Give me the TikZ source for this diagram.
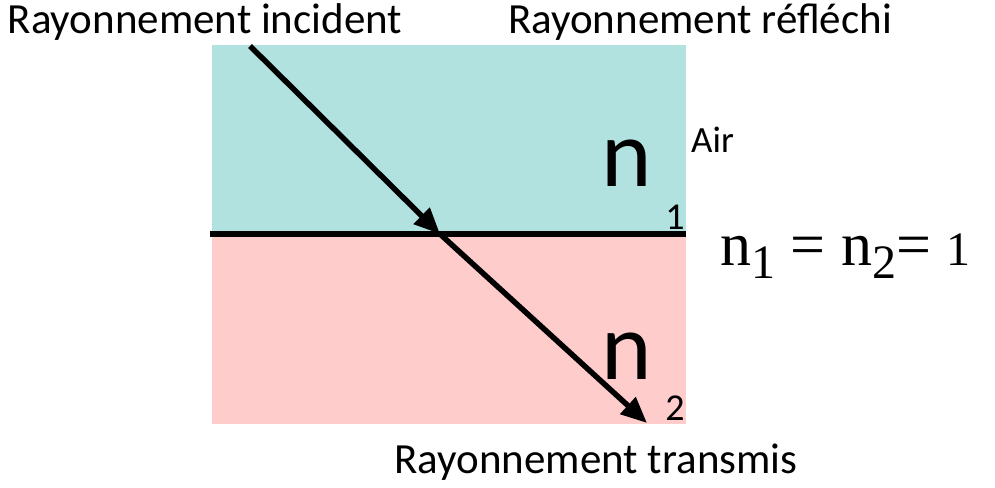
\documentclass[tikz,border=0pt]{standalone}
\usepackage{fontspec}
\setmainfont{Carlito}
\newfontfamily\serifnum{Liberation Serif}
\usetikzlibrary{arrows.meta}
\definecolor{aircol}{RGB}{178,226,224}
\definecolor{glasscol}{RGB}{255,204,204}
\newcommand{\eqbig}{\serifnum\fontsize{62}{70}\selectfont}
\newcommand{\eqsmall}{\serifnum\fontsize{48}{54}\selectfont}
\newcommand{\eqsub}[1]{\raisebox{-13pt}{\eqsmall #1}}
\tikzset{
  ray/.style={line width=5.5pt,-{Triangle[length=26pt,width=22pt]}},
  lbl/.style={inner sep=0pt,font=\fontsize{43}{50}\selectfont},
  bign/.style={inner sep=0pt,font=\fontsize{96}{110}\selectfont},
  subn/.style={inner sep=0pt,font=\fontsize{38}{44}\selectfont}
}
\begin{document}
\begin{tikzpicture}[x=1pt,y=-1pt]
\useasboundingbox (0,0) rectangle (995,487);
\fill[aircol] (212,45) rectangle (686,234);
\fill[glasscol] (212,234) rectangle (686,424);
\coordinate (iA) at (250,46);
\coordinate (iB) at (440,234);
\coordinate (tB) at (647,423);
\coordinate (sL) at (210,234);
\coordinate (sR) at (686,234);
\draw[line width=6pt] (sL) -- (sR);
\draw[ray] (iA) -- (iB);
\draw[ray] (iB) -- (tB);
\node[lbl,anchor=base] (inc) at (205,34) {Rayonnement incident};
\node[lbl,anchor=base] (ref) at (700,34) {Rayonnement réfléchi};
\node[lbl,anchor=base] (tra) at (596,473) {Rayonnement transmis};
\node[lbl,anchor=base west,font=\fontsize{37}{42}\selectfont] (air) at (691,152) {Air};
\node[bign,anchor=base] (n1) at (627,186) {n};
\node[subn,anchor=base] (s1) at (675,229) {1};
\node[bign,anchor=base] (n2) at (627,379) {n};
\node[subn,anchor=base] (s2) at (675,420) {2};
\node[inner sep=0pt,anchor=base west] (eq) at (720,265) {\eqbig n\eqsub{1} = n\eqsub{2}= \eqsmall 1};
\end{tikzpicture}
\end{document}
